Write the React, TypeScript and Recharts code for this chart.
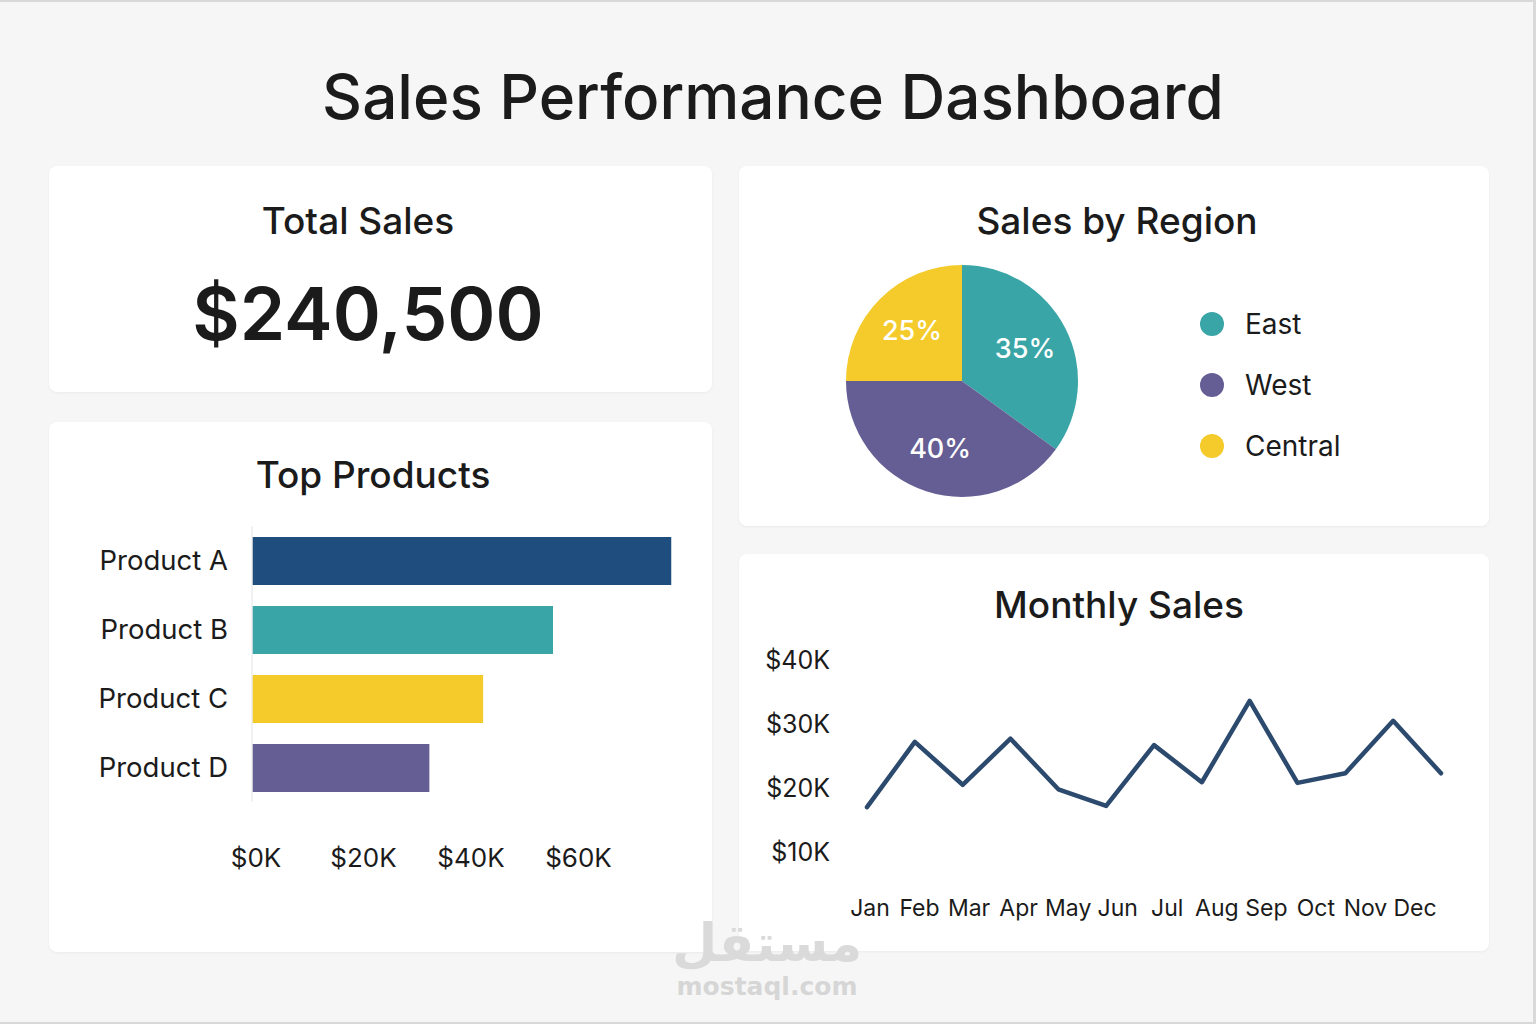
import React from "react";
import {
  BarChart,
  Bar,
  XAxis,
  YAxis,
  Cell,
  PieChart,
  Pie,
  Legend,
  LineChart,
  Line,
} from "recharts";

// ---- data ----
const totalSales = "$240,500";

const productNames = ["Product A", "Product B", "Product C", "Product D"];
const productSales = [78, 56, 43, 33]; // thousands of dollars
const productColors = ["#1f4d7d", "#3aa5a6", "#f4cb2b", "#655e94"];
const productTicks = [0, 20, 40, 60];

const regionNames = ["East", "West", "Central"];
const regionShares = [35, 40, 25];
const regionColors = ["#3aa5a6", "#655e94", "#f4cb2b"];

const monthLabels = ["Jan", "Feb", "Mar", "Apr", "May", "Jun", "Jul", "Aug", "Sep", "Oct", "Nov", "Dec"];
const monthlySales = [17, 27.2, 20.5, 27.7, 19.8, 17.2, 26.7, 20.9, 33.6, 20.8, 22.3, 30.5, 22.3]; // thousands
const monthlyTicks = [10, 20, 30, 40];

// ---- derived tables ----
const productData = productNames.map((name, i) => ({ name, sales: productSales[i] }));
const regionData = regionNames.map((name, i) => ({ name, value: regionShares[i] }));
const monthAxisData = monthLabels.map((month) => ({ month }));
const salesPoints = monthlySales.map((sales, step) => ({ step, sales }));

const FONT = "Inter, 'Noto Sans', sans-serif";
const INK = "#1b1b1b";
const RAD = Math.PI / 180;

const cardStyle: React.CSSProperties = {
  position: "absolute",
  background: "#ffffff",
  borderRadius: 8,
  boxShadow: "0 1px 3px rgba(0,0,0,0.05)",
};

function Heading({ text, cx, cy, size, weight = 500 }: { text: string; cx: number; cy: number; size: number; weight?: number }) {
  return (
    <div
      style={{
        position: "absolute",
        left: cx - 500,
        top: cy - size / 2,
        width: 1000,
        textAlign: "center",
        fontSize: size,
        lineHeight: `${size}px`,
        fontWeight: weight,
        color: INK,
        fontFamily: FONT,
        whiteSpace: "nowrap",
      }}
    >
      {text}
    </div>
  );
}

function PieLabel(props: any) {
  const { cx, cy, midAngle, outerRadius, percent } = props;
  const r = outerRadius * 0.61;
  const x = cx + r * Math.cos(-midAngle * RAD);
  const y = cy + r * Math.sin(-midAngle * RAD);
  return (
    <text x={x} y={y} fill="#ffffff" textAnchor="middle" dominantBaseline="central" fontSize={27} fontWeight={500} fontFamily={FONT}>
      {`${Math.round(percent * 100)}%`}
    </text>
  );
}

function RegionLegend() {
  return (
    <div style={{ fontFamily: FONT }}>
      {regionNames.map((name, i) => (
        <div key={name} style={{ display: "flex", alignItems: "center", height: 61 }}>
          <span
            style={{
              display: "inline-block",
              width: 24,
              height: 24,
              borderRadius: 12,
              background: regionColors[i],
              marginRight: 21,
            }}
          />
          <span style={{ fontSize: 28, color: INK }}>{name}</span>
        </div>
      ))}
    </div>
  );
}

export default function App() {
  return (
    <div
      style={{
        position: "absolute",
        left: 0,
        top: 0,
        width: 1536,
        height: 1024,
        background: "#f6f6f6",
        overflow: "hidden",
        fontFamily: FONT,
      }}
    >
      {/* page frame */}
      <div
        style={{
          position: "absolute",
          left: 0,
          top: 0,
          width: 1536,
          height: 1024,
          boxSizing: "border-box",
          borderTop: "2px solid #d9d9d9",
          borderRight: "3px solid #d9d9d9",
          borderBottom: "2px solid #d9d9d9",
          pointerEvents: "none",
        }}
      />

      <Heading text="Sales Performance Dashboard" cx={773} cy={97} size={62} />

      {/* cards */}
      <div style={{ ...cardStyle, left: 49, top: 166, width: 663, height: 226 }} />
      <div style={{ ...cardStyle, left: 49, top: 422, width: 663, height: 530 }} />
      <div style={{ ...cardStyle, left: 739, top: 166, width: 750, height: 360 }} />
      <div style={{ ...cardStyle, left: 739, top: 554, width: 750, height: 397 }} />

      {/* total sales */}
      <Heading text="Total Sales" cx={358} cy={220} size={37} />
      <Heading text={totalSales} cx={368} cy={313} size={73} weight={600} />

      {/* top products */}
      <Heading text="Top Products" cx={373} cy={474} size={37} />
      <div style={{ position: "absolute", left: 49, top: 500 }}>
        <BarChart
          width={663}
          height={400}
          layout="vertical"
          data={productData}
          margin={{ top: 26, right: 30, bottom: 38, left: 0 }}
        >
          <XAxis
            type="number"
            dataKey="sales"
            domain={[0, 80]}
            ticks={productTicks}
            tickFormatter={(v: number) => `$${v}K`}
            axisLine={false}
            tickLine={false}
            tickSize={0}
            tickMargin={47}
            height={60}
            tick={{ fontSize: 26, fill: INK, fontFamily: FONT, dx: 4 }}
          />
          <YAxis
            type="category"
            dataKey="name"
            width={203}
            axisLine={{ stroke: "#ececec", strokeWidth: 1.5 }}
            tickLine={false}
            tickSize={0}
            tickMargin={24}
            tick={{ fontSize: 27.5, fill: INK, fontFamily: FONT }}
          />
          <Bar dataKey="sales" barSize={48} isAnimationActive={false}>
            {productData.map((d, i) => (
              <Cell key={d.name} fill={productColors[i]} />
            ))}
          </Bar>
        </BarChart>
      </div>

      {/* sales by region */}
      <Heading text="Sales by Region" cx={1117} cy={220} size={37} />
      <div style={{ position: "absolute", left: 739, top: 166 }}>
        <PieChart width={750} height={360} margin={{ top: 0, right: 0, bottom: 0, left: 0 }}>
          <Pie
            data={regionData}
            dataKey="value"
            nameKey="name"
            cx={223}
            cy={215}
            outerRadius={116}
            startAngle={90}
            endAngle={-270}
            stroke="none"
            label={PieLabel}
            labelLine={false}
            isAnimationActive={false}
          >
            {regionData.map((d, i) => (
              <Cell key={d.name} fill={regionColors[i]} />
            ))}
          </Pie>
          <Legend
            layout="vertical"
            align="right"
            verticalAlign="middle"
            content={<RegionLegend />}
            wrapperStyle={{ left: 461, top: 127, width: 250 }}
          />
        </PieChart>
      </div>

      {/* monthly sales */}
      <Heading text="Monthly Sales" cx={1119} cy={604} size={37} />
      <div style={{ position: "absolute", left: 739, top: 620 }}>
        <LineChart width={750} height={320} data={monthAxisData} margin={{ top: 40, right: 48, bottom: 28, left: 0 }}>
          <XAxis
            xAxisId="month"
            type="category"
            dataKey="month"
            padding={{ left: 3, right: 26 }}
            axisLine={false}
            tickLine={false}
            tickSize={0}
            tickMargin={48}
            height={60}
            interval={0}
            tick={{ fontSize: 23, fill: INK, fontFamily: FONT }}
          />
          <XAxis xAxisId="step" type="number" dataKey="step" domain={[0, monthlySales.length - 1]} hide />
          <YAxis
            type="number"
            domain={[10, 40]}
            ticks={monthlyTicks}
            tickFormatter={(v: number) => `$${v}K`}
            width={128}
            axisLine={false}
            tickLine={false}
            tickSize={0}
            tickMargin={37}
            tick={{ fontSize: 25, fill: INK, fontFamily: FONT }}
          />
          <Line
            xAxisId="step"
            data={salesPoints}
            dataKey="sales"
            type="linear"
            stroke="#2c4a6e"
            strokeWidth={4.5}
            strokeLinejoin="round"
            strokeLinecap="round"
            dot={false}
            activeDot={false}
            isAnimationActive={false}
          />
        </LineChart>
      </div>

      {/* footer mark */}
      <div
        style={{
          position: "absolute",
          left: 567,
          top: 923,
          width: 400,
          textAlign: "center",
          fontFamily: "'DejaVu Sans', sans-serif",
          fontWeight: 700,
          fontSize: 52,
          lineHeight: "40px",
          color: "#dadada",
          direction: "rtl",
        }}
      >
        مستقل
      </div>
      <div
        style={{
          position: "absolute",
          left: 567,
          top: 975,
          width: 400,
          textAlign: "center",
          fontFamily: "'DejaVu Sans', sans-serif",
          fontWeight: 700,
          fontSize: 25,
          lineHeight: "24px",
          color: "#d6d6d6",
        }}
      >
        mostaql.com
      </div>
    </div>
  );
}
